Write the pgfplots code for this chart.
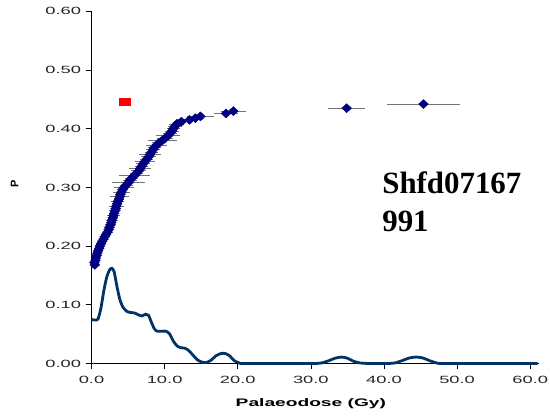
\documentclass[border=0pt]{standalone}
\usepackage{pgfplots}
\pgfplotsset{compat=1.18}
\usepackage{pgfplotstable}
\usepackage{fontspec}
\setmainfont{Liberation Sans}
\newfontfamily\wide[FakeStretch=1.75]{Liberation Sans}
\newfontfamily\serifb{Liberation Serif}
\definecolor{ptnavy}{RGB}{0,0,128}
\definecolor{kdeblue}{RGB}{0,51,102}
\pgfplotstableread{
x y ex
0.45 0.168 0.4
0.40 0.172 0.5
0.55 0.176 0.6
0.60 0.180 0.5
0.70 0.184 0.6
0.80 0.188 0.5
0.90 0.192 0.7
1.05 0.196 0.6
1.15 0.200 0.5
1.30 0.204 0.7
1.45 0.208 0.6
1.65 0.212 0.6
1.80 0.216 0.7
2.00 0.220 0.6
2.20 0.224 0.7
2.35 0.228 0.6
2.45 0.232 0.8
2.60 0.236 0.7
2.70 0.240 0.6
2.80 0.244 0.8
2.90 0.248 0.7
3.00 0.252 0.9
3.10 0.256 0.6
3.20 0.260 0.8
3.30 0.264 0.7
3.40 0.268 1.0
3.50 0.272 0.7
3.60 0.276 0.9
3.75 0.280 0.7
3.85 0.284 1.3
3.95 0.288 0.8
4.10 0.292 1.1
4.25 0.296 0.8
4.45 0.300 1.4
4.75 0.304 0.9
5.05 0.308 2.3
5.25 0.312 1.0
5.50 0.316 0.9
5.85 0.320 2.1
6.15 0.324 0.9
6.45 0.328 1.0
6.65 0.332 1.5
6.85 0.336 0.9
7.05 0.340 1.0
7.30 0.344 1.4
7.55 0.348 0.9
7.80 0.352 1.0
8.00 0.356 1.5
8.20 0.360 0.9
8.40 0.364 1.0
8.60 0.368 0.9
8.90 0.372 1.4
9.25 0.376 1.0
9.70 0.380 2.0
10.10 0.384 1.1
10.45 0.388 1.6
10.75 0.392 1.0
11.00 0.396 1.0
11.20 0.400 0.9
11.40 0.404 1.0
11.65 0.408 1.0
12.30 0.412 1.0
13.40 0.415 1.9
14.20 0.418 1.0
14.90 0.421 1.8
18.40 0.426 1.6
19.40 0.430 1.7
34.90 0.435 2.5
45.40 0.442 5.0
}\pointdata
\pgfplotstableread{
x y
0.0 0.075
0.5 0.074
0.9 0.076
1.3 0.095
1.7 0.125
2.1 0.148
2.5 0.160
2.8 0.162
3.1 0.156
3.5 0.130
3.9 0.108
4.3 0.096
4.8 0.089
5.3 0.087
5.9 0.086
6.4 0.083
6.9 0.081
7.4 0.084
7.8 0.082
8.2 0.070
8.6 0.059
9.0 0.055
9.6 0.055
10.2 0.055
10.7 0.050
11.2 0.038
11.7 0.030
12.2 0.027
12.8 0.026
13.3 0.022
13.9 0.014
14.5 0.006
15.2 0.002
15.8 0.002
16.4 0.006
17.0 0.013
17.7 0.017
18.3 0.017
18.9 0.013
19.5 0.005
20.2 0.001
21.0 0.000
30.0 0.000
31.5 0.001
32.5 0.005
33.3 0.009
34.2 0.011
35.0 0.009
35.8 0.004
36.7 0.001
38.0 0.000
40.5 0.000
41.5 0.001
42.5 0.005
43.5 0.0095
44.4 0.011
45.3 0.0095
46.2 0.005
47.2 0.001
48.5 0.000
61.0 0.000
}\kdedata
\begin{document}
\begin{tikzpicture}
\path[use as bounding box] (-91.5bp,-52.5bp) rectangle (458.5bp,363.5bp);
\begin{axis}[
  at={(0,0)}, anchor=origin,
  scale only axis,
  width=447.5bp, height=352.2bp,
  xmin=0, xmax=61.2, ymin=0, ymax=0.6,
  axis lines*=left,
  axis line style={black, line width=0.8bp},
  tick align=outside,
  major tick length=5bp,
  tick style={black, line width=0.7bp},
  xtick={0,10,...,60},
  ytick={0,0.1,...,0.6},
  /pgf/number format/assume math mode=true,
  ticklabel style={font=\wide\fontsize{10.5}{12}\selectfont, text=black!85},
  xticklabel={\pgfmathprintnumber[fixed,fixed zerofill,precision=1]{\tick}},
  yticklabel={\pgfmathprintnumber[fixed,fixed zerofill,precision=2]{\tick}},
  xticklabel style={yshift=-4bp},
  yticklabel style={xshift=-2bp},
  clip=false,
]
\addplot[kdeblue, line width=2.8bp, smooth, tension=0.4] table[x=x,y=y] {\kdedata};
\addplot[only marks, mark=diamond*, mark size=4.5bp,
  mark options={ptnavy, fill=ptnavy, xscale=1.45},
  error bars/.cd, x dir=both, x explicit,
  error bar style={black!55, line width=1bp}, error mark=none]
  table[x=x,y=y,x error=ex] {\pointdata};
\addplot[only marks, mark=square*, mark size=3.5bp,
  mark options={red, fill=red, xscale=1.7}] coordinates {(4.54,0.446)};
\node[anchor=base west, inner sep=0, font=\serifb\bfseries\fontsize{31}{36}\selectfont]
  at (axis cs:39.75,0.290) {Shfd07167};
\node[anchor=base west, inner sep=0, font=\serifb\bfseries\fontsize{31}{36}\selectfont]
  at (axis cs:39.75,0.2245) {991};
\node[anchor=base, inner sep=0, font=\wide\bfseries\fontsize{11}{13}\selectfont]
  at ([yshift=-43bp]axis cs:30,0) {Palaeodose (Gy)};
\node[rotate=90, inner sep=0, font=\bfseries\fontsize{11}{12}\selectfont]
  at ([xshift=-77bp]axis cs:0,0.306) {P};
\end{axis}
\end{tikzpicture}
\end{document}
